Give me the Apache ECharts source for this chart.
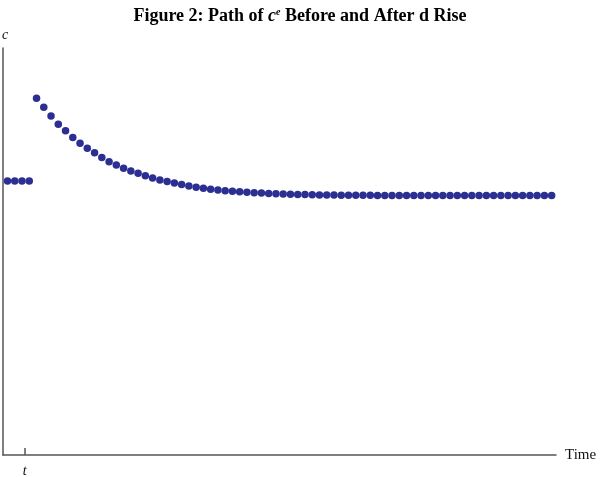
<!DOCTYPE html>
<html>
<head>
<meta charset="utf-8">
<script src="https://cdn.jsdelivr.net/npm/echarts@6/dist/echarts.min.js"></script>
<style>html,body{margin:0;padding:0;background:#fff;}#c{width:600px;height:477px;}</style>
</head>
<body>
<div id="c"></div>
<script>
const periods = [0,1,2,3,4,5,6,7,8,9,10,11,12,13,14,15,16,17,18,19,20,21,22,23,24,25,26,27,28,29,30,31,32,33,34,35,36,37,38,39,40,41,42,43,44,45,46,47,48,49,50,51,52,53,54,55,56,57,58,59,60,61,62,63,64,65,66,67,68,69,70,71,72,73,74,75];
const consumption = [2.74,2.74,2.74,2.74,
  3.567,3.477,3.39,3.307,3.243,3.175,3.117,3.067,3.023,2.975,2.933,2.90,2.867,2.84,2.817,2.793,2.77,2.75,2.735,2.72,2.705,2.69,2.677,2.667,2.658,2.65,2.643,2.637,2.632,2.627,2.623,2.619,2.616,2.613,2.61,2.608,2.606,2.604,2.602,2.601,2.60,2.599,2.598,2.598,2.597,2.597,2.597,2.596,2.596,2.596,2.596,2.596,2.595,2.595,2.595,2.595,2.595,2.595,2.595,2.595,2.595,2.595,2.595,2.595,2.595,2.595,2.595,2.595,2.595,2.595,2.595,2.595];
const tickValues = [2.37];
const tickLabels = ['t'];

const chart = echarts.init(document.getElementById('c'));
chart.setOption({
  animation: false,
  title: {
    text: '{b|Figure 2: Path of }{i|c}{s|e}{b| Before and After d Rise}',
    left: 'center', top: 2,
    textStyle: {
      rich: {
        b: {fontFamily: 'Liberation Serif', fontWeight: 'bold', fontSize: 18, color: '#000'},
        i: {fontFamily: 'Liberation Serif', fontStyle: 'italic', fontSize: 18, color: '#000'},
        s: {fontFamily: 'Liberation Serif', fontStyle: 'italic', fontSize: 10, color: '#000', verticalAlign: 'top', padding: [0,0,8,0]}
      }
    }
  },
  grid: {left: 3, right: 44, top: 48, bottom: 22, containLabel: false, outerBoundsMode: 'none'},
  xAxis: {
    type: 'value', min: -0.62, max: 75.6,
    name: 'Time', nameLocation: 'end', nameGap: 9,
    nameTextStyle: {fontFamily: 'Liberation Serif', fontSize: 15, color: '#111', verticalAlign: 'middle'},
    axisLine: {onZero: false, lineStyle: {color: '#555', width: 1.5}},
    axisTick: {show: true, inside: true, length: 7, customValues: tickValues, lineStyle: {color: '#555', width: 1.5}},
    axisLabel: {show: true, customValues: tickValues, formatter: function(v){ return tickLabels[0]; }, margin: 9,
      fontFamily: 'Liberation Serif', fontStyle: 'italic', fontSize: 14, color: '#111'},
    splitLine: {show: false}
  },
  yAxis: {
    type: 'value', min: 0, max: 4.07,
    name: 'c', nameLocation: 'end', nameGap: 6,
    nameTextStyle: {fontFamily: 'Liberation Serif', fontStyle: 'italic', fontSize: 14, color: '#111', align: 'left', padding: [0,0,0,-1]},
    axisLine: {show: true, onZero: false, lineStyle: {color: '#555', width: 1.5}},
    axisTick: {show: false},
    axisLabel: {show: false},
    splitLine: {show: false}
  },
  series: [{
    type: 'scatter',
    data: periods.map((p, i) => [p, consumption[i]]),
    symbolSize: 7.5,
    itemStyle: {color: '#2b2f91', opacity: 1}
  }]
});
</script>
</body>
</html>
